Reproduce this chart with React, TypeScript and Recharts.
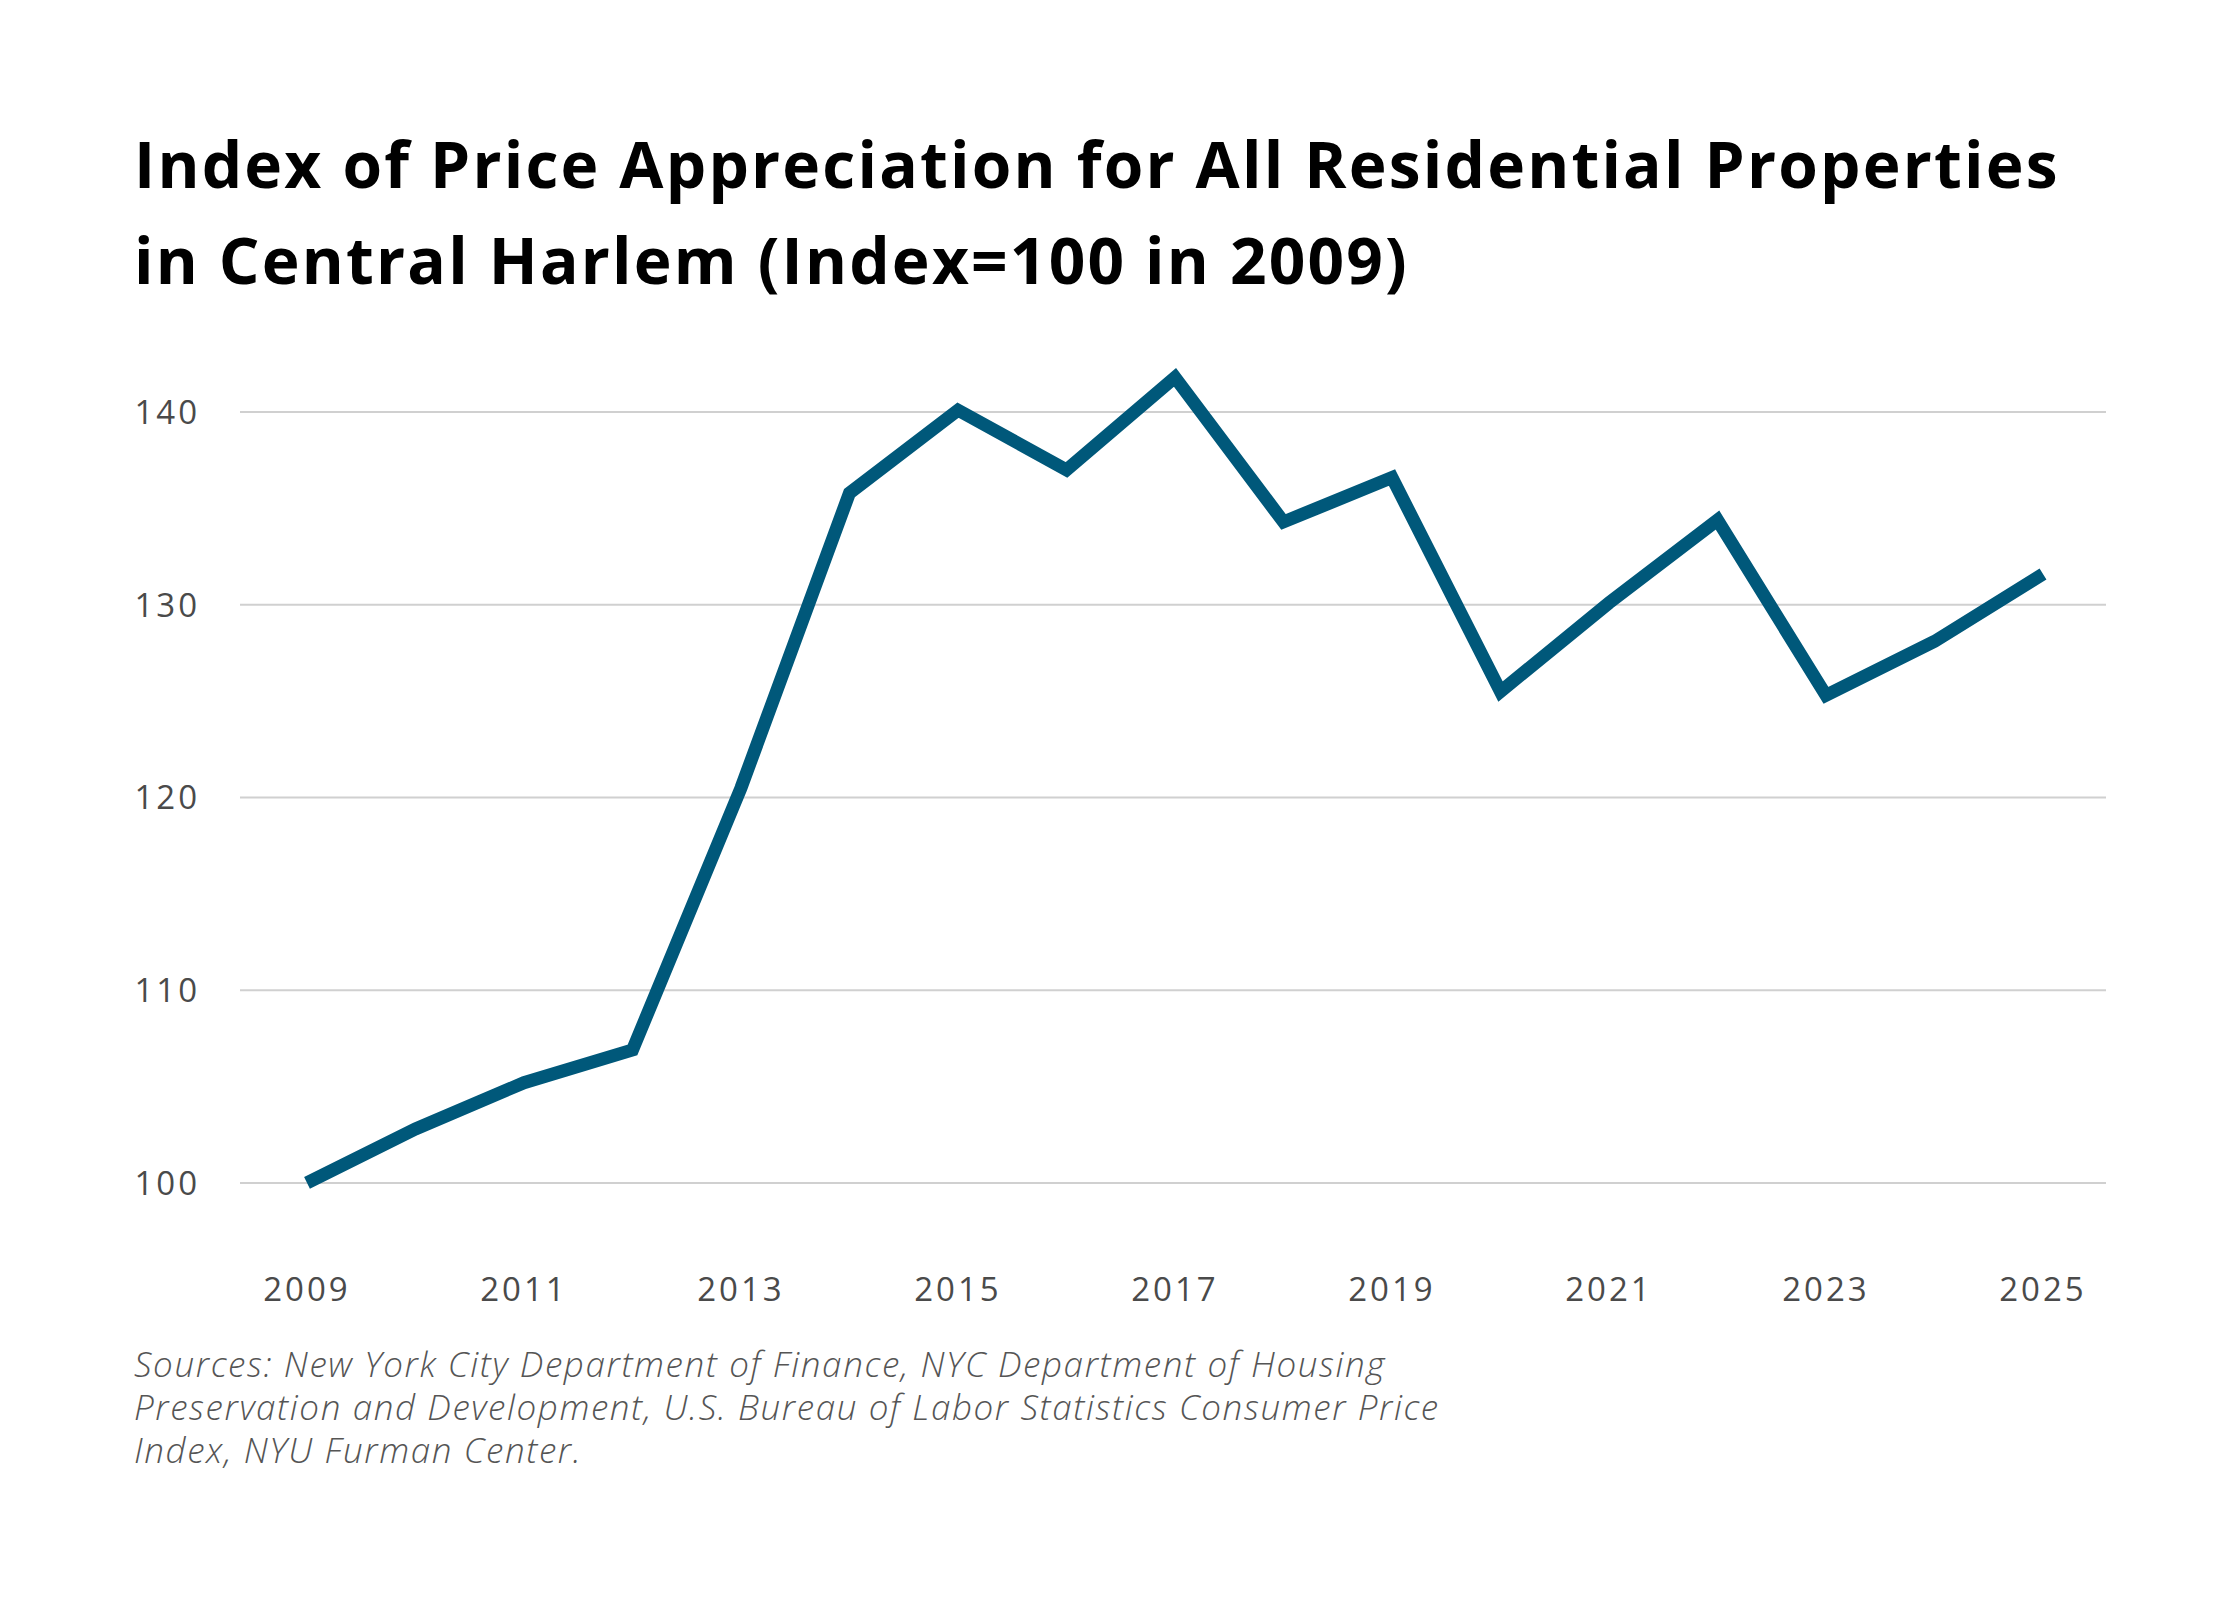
import React from 'react';
import { LineChart, Line, XAxis, YAxis, ReferenceLine } from 'recharts';

const years = [2009, 2010, 2011, 2012, 2013, 2014, 2015, 2016, 2017, 2018, 2019, 2020, 2021, 2022, 2023, 2024, 2025];
const indexValues = [100, 102.8, 105.2, 106.9, 120.5, 135.8, 140.1, 137.0, 141.8, 134.3, 136.6, 125.5, 130.1, 134.4, 125.3, 128.1, 131.6];
const xTicks = [2009, 2011, 2013, 2015, 2017, 2019, 2021, 2023, 2025];
const yTicks = [100, 110, 120, 130, 140];

const titleLines = [
  'Index of Price Appreciation for All Residential Properties',
  'in Central Harlem (Index=100 in 2009)',
];
const sourceLines = [
  'Sources: New York City Department of Finance, NYC Department of Housing',
  'Preservation and Development, U.S. Bureau of Labor Statistics Consumer Price',
  'Index, NYU Furman Center.',
];

const data = years.map((y, i) => ({ year: y, value: indexValues[i] }));

const tickStyle = { fontFamily: '"Open Sans", sans-serif', fontSize: 33, fill: '#4a4a4a', letterSpacing: 3 };

export default function App() {
  return (
    <div style={{ position: 'absolute', left: 0, top: 0, width: 2240, height: 1600, background: '#fff', overflow: 'hidden' }}>
      <div style={{ position: 'absolute', left: 134, top: 116, fontFamily: '"Open Sans", sans-serif', fontWeight: 700, fontSize: 64, lineHeight: '96px', letterSpacing: 2.2, color: '#000', whiteSpace: 'nowrap' }}>
        {titleLines.map((t, i) => (
          <div key={i}>{t}</div>
        ))}
      </div>
      <div style={{ position: 'absolute', left: 0, top: 0 }}>
        <LineChart width={2240} height={1400} data={data} margin={{ top: 335, right: 134, bottom: 80, left: 0 }}>
          {yTicks.map((t) => (
            <ReferenceLine key={t} y={t} stroke="#d0d0d0" strokeWidth={2} ifOverflow="extendDomain" />
          ))}
          <XAxis
            dataKey="year"
            type="number"
            domain={[2009, 2025]}
            ticks={xTicks}
            padding={{ left: 67, right: 63 }}
            axisLine={false}
            tickLine={false}
            tickSize={0}
            tickMargin={18}
            height={60}
            tick={tickStyle}
            interval={0}
          />
          <YAxis
            type="number"
            domain={[96, 144]}
            ticks={yTicks}
            axisLine={false}
            tickLine={false}
            tickSize={0}
            tickMargin={40}
            width={240}
            tick={tickStyle}
          />
          <Line
            type="linear"
            dataKey="value"
            stroke="#00587a"
            strokeWidth={13}
            dot={false}
            activeDot={false}
            isAnimationActive={false}
          />
        </LineChart>
      </div>
      <div style={{ position: 'absolute', left: 134, top: 1342, fontFamily: '"Open Sans", sans-serif', fontStyle: 'italic', fontWeight: 300, fontSize: 35, lineHeight: '43px', letterSpacing: 1.6, color: '#555', whiteSpace: 'nowrap' }}>
        {sourceLines.map((t, i) => (
          <div key={i}>{t}</div>
        ))}
      </div>
    </div>
  );
}
